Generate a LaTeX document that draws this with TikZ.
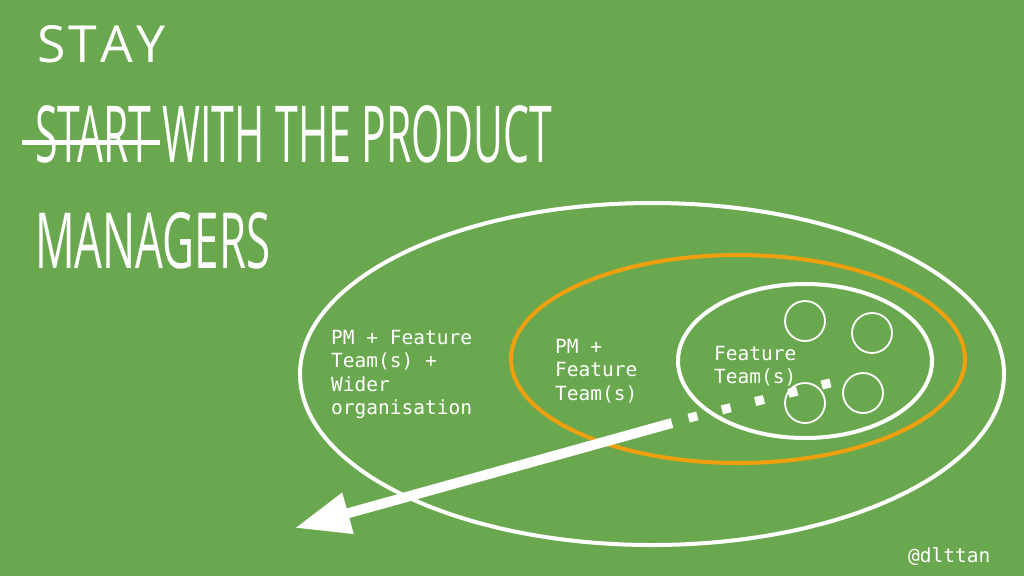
\documentclass[tikz,border=0pt]{standalone}
\usepackage{fontspec}
\usepackage{graphicx}
\usetikzlibrary{arrows.meta}
\newfontfamily\titlefont{Open Sans}
\newfontfamily\monofont{DejaVu Sans Mono}
\definecolor{bggreen}{HTML}{6AA84F}
\definecolor{ringorange}{HTML}{F0A00E}
\tikzset{
  ring/.style={draw=white, line width=4pt},
  orangering/.style={draw=ringorange, line width=4pt},
  member/.style={draw=white, line width=1.8pt, circle, minimum size=40pt, inner sep=0pt},
  label/.style={text=white, font=\monofont\fontsize{19.5}{23.3}\selectfont, align=left, anchor=north west, inner sep=0pt},
  bigtitle/.style={text=white, anchor=base west, inner sep=0pt},
}
\begin{document}
\begin{tikzpicture}[x=1pt,y=-1pt]
\fill[bggreen] (0,0) rectangle (1024,576);
\useasboundingbox (0,0) rectangle (1024,576);
% titles
\node[bigtitle] (stay) at (37,62) {\resizebox{128pt}{37pt}{\titlefont S\kern0.06em T\kern0.06em A\kern0.06em Y}};
\node[bigtitle] (start) at (35,162) {\resizebox{517pt}{57pt}{\titlefont START WITH THE PRODUCT}};
\node[bigtitle] (managers) at (35,268) {\resizebox{235pt}{56pt}{\titlefont MANAGERS}};
\coordinate (strikeA) at (22,142);
\coordinate (strikeB) at (160,142);
\draw[white, line width=5pt] (strikeA) -- (strikeB);
% ellipses
\draw[ring] (652,374) ellipse [x radius=352pt, y radius=171pt];
\draw[orangering] (738,359) ellipse [x radius=227pt, y radius=104pt];
\draw[ring] (805,361) ellipse [x radius=127pt, y radius=77pt];
% team members
\node[member] (m1) at (805,321) {};
\node[member] (m2) at (872,333) {};
\node[member] (m3) at (805,403) {};
\node[member] (m4) at (863,393) {};
% labels
\node[label] (outerlbl) at (331,330) {PM + Feature\\Team(s) +\\Wider\\organisation};
\node[label] (midlbl) at (555,339) {PM +\\Feature\\Team(s)};
\node[label] (innerlbl) at (714,346) {Feature\\Team(s)};
\node[text=white, font=\monofont\fontsize{19.5}{22}\selectfont, anchor=base west, inner sep=0pt] (handle) at (908,562) {@dlttan};
% arrow
\coordinate (arrstart) at (672,423);
\coordinate (arrtip) at (295,528);
\draw[white, line width=10pt, -{Triangle[length=55pt,width=40pt]}] (arrstart) -- (arrtip);
\coordinate (dotA) at (688.6,418.1);
\coordinate (dotB) at (830.4,382.9);
\draw[white, line width=9pt, dash pattern=on 9pt off 25.3pt] (dotA) -- (dotB);
\end{tikzpicture}
\end{document}
